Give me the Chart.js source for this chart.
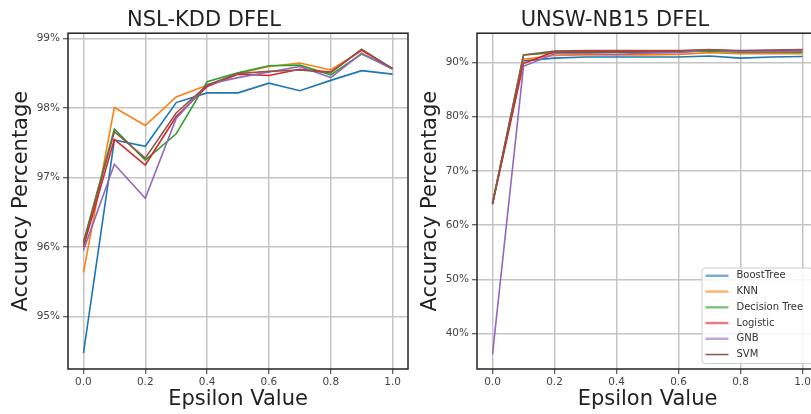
<!DOCTYPE html>
<html>
<head>
<meta charset="utf-8">
<script src="https://cdn.jsdelivr.net/npm/chart.js@4/dist/chart.umd.min.js"></script>
<style>
  html, body { margin: 0; padding: 0; background: #fff; overflow: hidden; }
  body { width: 811px; height: 414px; position: relative; }
  #nslChart { position: absolute; left: 0; top: 0; }
  #unswChart { position: absolute; left: 412px; top: 0; }
</style>
</head>
<body>
<canvas id="nslChart" width="412" height="414"></canvas>
<canvas id="unswChart" width="410" height="414"></canvas>
<script>
// Shared x values and labels
var epsilons = [0.0, 0.1, 0.2, 0.3, 0.4, 0.5, 0.6, 0.7, 0.8, 0.9, 1.0];
var xTicks = [0.0, 0.2, 0.4, 0.6, 0.8, 1.0];
var models = ["BoostTree", "KNN", "Decision Tree", "Logistic", "GNB", "SVM"];
var colors = ["#1f77b4", "#ff7f0e", "#2ca02c", "#d62728", "#9467bd", "#8c564b"];

// NSL-KDD accuracy (%)
var nslBoostTree = [94.47, 97.54, 97.45, 98.08, 98.22, 98.22, 98.36, 98.25, 98.40, 98.54, 98.49];
var nslKnn = [95.63, 98.01, 97.75, 98.16, 98.33, 98.50, 98.60, 98.65, 98.55, 98.83, 98.57];
var nslDecisionTree = [96.07, 97.70, 97.25, 97.63, 98.38, 98.51, 98.61, 98.62, 98.48, 98.78, 98.57];
var nslLogistic = [96.00, 97.55, 97.18, 97.88, 98.31, 98.49, 98.47, 98.56, 98.52, 98.84, 98.57];
var nslGnb = [95.95, 97.19, 96.70, 97.85, 98.34, 98.44, 98.52, 98.60, 98.44, 98.79, 98.56];
var nslSvm = [96.05, 97.66, 97.28, 97.93, 98.33, 98.50, 98.53, 98.55, 98.51, 98.85, 98.57];
var nslYTicks = [95, 96, 97, 98, 99];

// UNSW-NB15 accuracy (%)
var unswBoostTree = [64.0, 90.3, 90.8, 91.0, 91.0, 91.0, 91.0, 91.2, 90.8, 91.0, 91.1];
var unswKnn = [64.1, 90.6, 91.3, 91.4, 91.4, 91.4, 91.5, 91.8, 91.6, 91.6, 91.6];
var unswDecisionTree = [64.0, 91.4, 91.8, 91.9, 91.9, 91.9, 92.0, 92.1, 91.9, 91.9, 91.9];
var unswLogistic = [63.9, 89.8, 92.0, 92.0, 92.0, 92.0, 92.1, 92.4, 92.1, 92.2, 92.3];
var unswGnb = [36.2, 89.3, 91.6, 91.6, 91.5, 91.7, 91.8, 92.3, 92.0, 92.0, 92.1];
var unswSvm = [64.0, 91.4, 92.1, 92.2, 92.2, 92.2, 92.2, 92.3, 92.2, 92.3, 92.4];
var unswYTicks = [40, 50, 60, 70, 80, 90];

Chart.defaults.font.family = "'DejaVu Sans', sans-serif";
Chart.defaults.color = "#333";

// Box around the whole plot area, like matplotlib spines
var framePlugin = {
  id: "frame",
  afterDatasetsDraw: function (chart) {
    var a = chart.chartArea;
    var ctx = chart.ctx;
    ctx.save();
    ctx.strokeStyle = "#222";
    ctx.lineWidth = 1.5;
    ctx.strokeRect(a.left, a.top, a.right - a.left, a.bottom - a.top);
    ctx.restore();
  }
};

// Legend drawn inside the plot, lower right
var boxLegendPlugin = {
  id: "boxLegend",
  afterDraw: function (chart) {
    var a = chart.chartArea;
    var ctx = chart.ctx;
    var w = 111, h = 95.5;
    var x0 = a.right - 5 - w;
    var y0 = a.bottom - 5.5 - h;
    ctx.save();
    ctx.fillStyle = "rgba(255,255,255,0.85)";
    ctx.strokeStyle = "#cccccc";
    ctx.lineWidth = 1;
    ctx.beginPath();
    ctx.roundRect(x0, y0, w, h, 3);
    ctx.fill();
    ctx.stroke();
    ctx.font = "10px 'DejaVu Sans'";
    ctx.textBaseline = "middle";
    chart.data.datasets.forEach(function (ds, i) {
      var y = y0 + 7.8 + i * 15.75;
      ctx.strokeStyle = ds.borderColor;
      ctx.globalAlpha = i === 5 ? 1 : 0.6;
      ctx.lineWidth = i === 5 ? 1.5 : 2.5;
      ctx.beginPath();
      ctx.moveTo(x0 + 3.5, y);
      ctx.lineTo(x0 + 26.5, y);
      ctx.stroke();
      ctx.globalAlpha = 1;
      ctx.fillStyle = "#333";
      ctx.fillText(ds.label, x0 + 34.5, y);
    });
    ctx.restore();
  }
};

function makeDatasets(seriesList) {
  return seriesList.map(function (vals, i) {
    return {
      label: models[i],
      data: epsilons.map(function (e, j) { return { x: e, y: vals[j] }; }),
      borderColor: colors[i],
      backgroundColor: colors[i],
      borderWidth: 1.6,
      pointRadius: 0,
      tension: 0,
      order: seriesList.length - i
    };
  });
}

function makeChart(id, title, seriesList, yMin, yMax, yTicks, yTitlePad, plugins) {
  var ctx = document.getElementById(id).getContext("2d");
  return new Chart(ctx, {
    type: "line",
    data: { datasets: makeDatasets(seriesList) },
    plugins: plugins,
    options: {
      responsive: false,
      animation: false,
      layout: { padding: { left: 0, right: 4, top: 0, bottom: 0 } },
      plugins: {
        legend: { display: false },
        tooltip: { enabled: false },
        title: {
          display: true,
          text: title,
          color: "#222",
          font: { size: 21, weight: "normal" },
          padding: { top: 8, bottom: 0 }
        }
      },
      scales: {
        x: {
          type: "linear",
          min: -0.05,
          max: 1.05,
          afterBuildTicks: function (scale) {
            scale.ticks = xTicks.map(function (v) { return { value: v }; });
          },
          afterFit: function (scale) { scale.height = 45; },
          ticks: {
            font: { size: 10.5 },
            color: "#444",
            padding: 2,
            maxRotation: 0,
            callback: function (v) { return Number(v).toFixed(1); }
          },
          grid: { color: "#c4c4c4", lineWidth: 1.5, tickLength: 5, tickColor: "#333", tickWidth: 1 },
          border: { display: false },
          title: {
            display: true,
            text: "Epsilon Value",
            color: "#222",
            font: { size: 21 },
            padding: { top: 0, bottom: 2 }
          }
        },
        y: {
          min: yMin,
          max: yMax,
          afterBuildTicks: function (scale) {
            scale.ticks = yTicks.map(function (v) { return { value: v }; });
          },
          afterFit: function (scale) { scale.width = id === "nslChart" ? 68 : 65; },
          ticks: {
            font: { size: 10.5 },
            color: "#444",
            padding: 3,
            callback: function (v) { return v + "%"; }
          },
          grid: { color: "#c4c4c4", lineWidth: 1.5, tickLength: 5, tickColor: "#333", tickWidth: 1 },
          border: { display: false },
          title: {
            display: true,
            text: "Accuracy Percentage",
            color: "#222",
            font: { size: 21 },
            padding: { top: yTitlePad, bottom: 0 }
          }
        }
      }
    }
  });
}

makeChart("nslChart", "NSL-KDD DFEL",
  [nslBoostTree, nslKnn, nslDecisionTree, nslLogistic, nslGnb, nslSvm],
  94.24, 99.08, nslYTicks, 9, [framePlugin]);

makeChart("unswChart", "UNSW-NB15 DFEL",
  [unswBoostTree, unswKnn, unswDecisionTree, unswLogistic, unswGnb, unswSvm],
  33.5, 95.4, unswYTicks, 5.5, [framePlugin, boxLegendPlugin]);
</script>
</body>
</html>
